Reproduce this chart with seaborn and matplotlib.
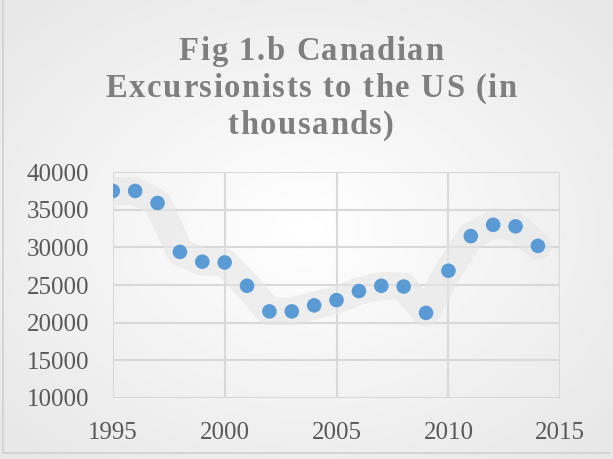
import numpy as np
import pandas as pd
import matplotlib
matplotlib.use('Agg')
import matplotlib.pyplot as plt
import seaborn as sns
from matplotlib.font_manager import FontProperties

years = [1995, 1996, 1997, 1998, 1999, 2000, 2001, 2002, 2003, 2004,
         2005, 2006, 2007, 2008, 2009, 2010, 2011, 2012, 2013, 2014]
excursionists = [37500, 37500, 35900, 29400, 28100, 28000, 24900, 21500, 21500, 22300,
                 23000, 24200, 24900, 24800, 21300, 26900, 31500, 33000, 32800, 30200]
title_lines = ['Fig 1.b Canadian', 'Excursionists to the US (in', 'thousands)']

df = pd.DataFrame({'year': years, 'visitors': excursionists})

sns.set_style('white')
plt.rcParams['font.family'] = ['Liberation Serif', 'DejaVu Serif']

fig = plt.figure(figsize=(6.13, 4.59), dpi=100)

# soft radial background like the Excel chart style
bg = fig.add_axes([0, 0, 1, 1], zorder=-10)
yy, xx = np.mgrid[-1:1:300j, -1:1:400j]
r = np.sqrt(xx ** 2 + yy ** 2)
bg.imshow(1 - 0.07 * np.clip(r, 0, 1.3), cmap='gray', vmin=0, vmax=1,
          aspect='auto', extent=[0, 1, 0, 1])
bg.plot([0.005, 0.005, 0.995], [1, 0.012, 0.012], color='#d0d0d0', lw=1.2)
bg.set_xlim(0, 1)
bg.set_ylim(0, 1)
bg.axis('off')

ax = fig.add_axes([0.184, 0.133, 0.730, 0.492])
ax.patch.set_alpha(0)

# glow band behind the points
sns.lineplot(data=df, x='year', y='visitors', ax=ax, color='#e6e6e6', alpha=0.6,
             lw=20, solid_joinstyle='round', solid_capstyle='round', zorder=2)
sns.scatterplot(data=df, x='year', y='visitors', ax=ax, color='#5b9bd5', s=110,
                edgecolor='none', zorder=3)

ax.set_xlim(1995, 2015)
ax.set_ylim(10000, 40000)
ax.set_xticks(range(1995, 2016, 5))
ax.set_yticks(range(10000, 40001, 5000))
ax.grid(True, color='#d9d9d9', lw=1.5)
for s in ax.spines.values():
    s.set_visible(False)
ax.tick_params(length=0, labelsize=18, labelcolor='#595959')
ax.tick_params(axis='x', pad=17)
ax.tick_params(axis='y', pad=17)
ax.set_xlabel('')
ax.set_ylabel('')

# title drawn with letter spacing (Excel style), one glyph at a time
prop = FontProperties(family='Liberation Serif', weight='bold', size=23.5)
renderer = fig.canvas.get_renderer()
ref_w = renderer.get_text_width_height_descent('|', prop, ismath=False)[0]


def glyph_widths(line):
    return [renderer.get_text_width_height_descent(ch + '|', prop, ismath=False)[0] - ref_w
            for ch in line]


mid = title_lines[1]
spacing = (411 - sum(glyph_widths(mid))) / (len(mid) - 1)
W, H = fig.bbox.width, fig.bbox.height
for i, line in enumerate(title_lines):
    widths = glyph_widths(line)
    total = sum(widths) + spacing * (len(line) - 1)
    x = 311 - total / 2
    yc = 48 + 37 * i
    for ch, w in zip(line, widths):
        fig.text(x / W, 1 - yc / H, ch, ha='left', va='center_baseline',
                 fontproperties=prop, color='#7f7f7f')
        x += w + spacing

fig.savefig('out.png', dpi=100)
